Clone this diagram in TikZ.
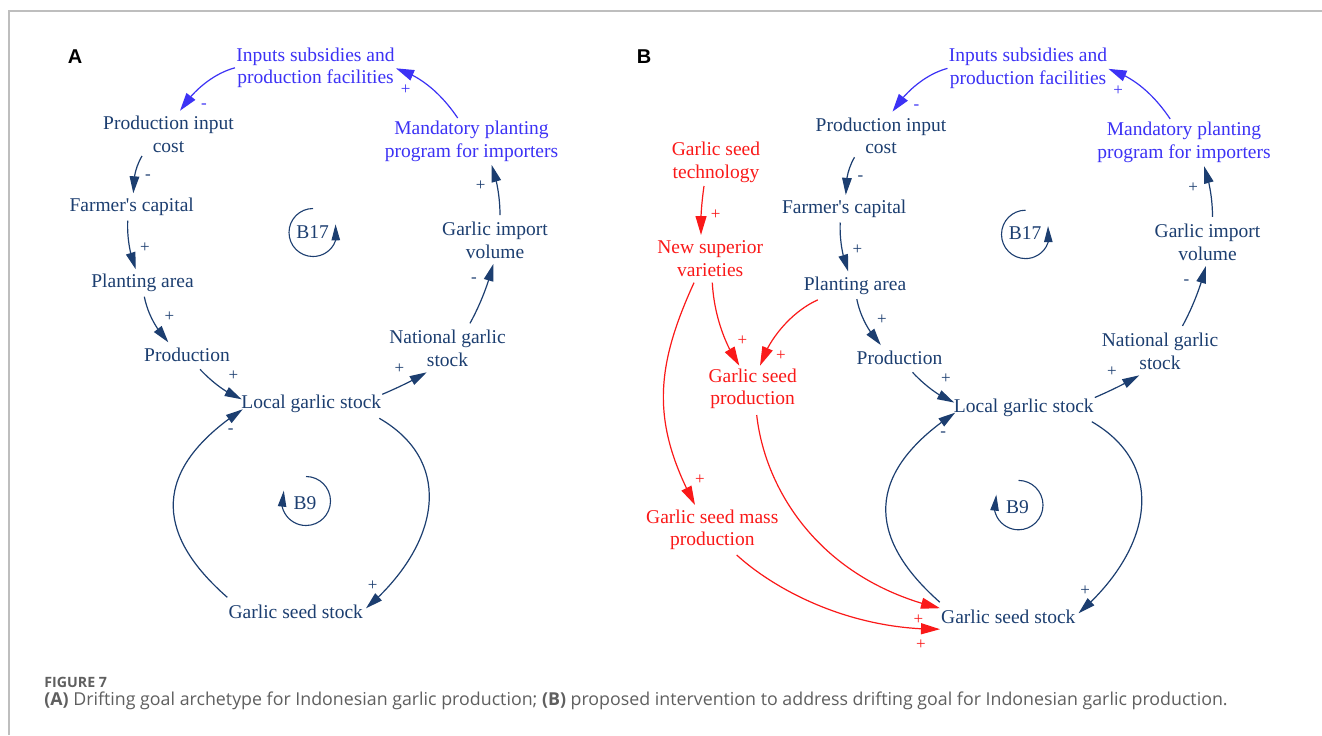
\documentclass[tikz,border=0pt]{standalone}
\usepackage{fontspec}
\setmainfont{Liberation Serif}
\newfontfamily\vfont{Liberation Serif}
\newfontfamily\capfont{Open Sans}
\newfontfamily\lblfont{Liberation Sans}
\usetikzlibrary{arrows.meta,bending}
\definecolor{navy}{RGB}{28,62,112}
\definecolor{vblue}{RGB}{60,50,245}
\definecolor{vred}{RGB}{250,25,25}
\definecolor{capgrey}{RGB}{95,95,95}
\definecolor{framegrey}{RGB}{190,190,190}
\tikzset{
  var/.style={font=\vfont\fontsize{9.75}{11.4}\selectfont, inner sep=0pt, align=center, text=navy},
  bvar/.style={var, text=vblue},
  rvar/.style={var, text=vred},
  sgn/.style={font=\vfont\fontsize{8.5}{9}\selectfont, inner sep=0pt, text=navy},
  bsgn/.style={sgn, text=vblue},
  rsgn/.style={sgn, text=vred},
  nlink/.style={draw=navy, line width=0.6pt, -{Triangle[length=8.5pt,width=4.8pt]}},
  blink/.style={draw=vblue, line width=0.6pt, -{Triangle[length=9pt,width=5.5pt]}},
  rlink/.style={draw=vred, line width=0.6pt, -{Triangle[length=9.5pt,width=5.5pt]}},
  nloop/.style={draw=navy, line width=0.55pt, -{Triangle[length=8pt,width=4.2pt]}},
  panel/.style={font=\lblfont\bfseries\fontsize{10}{12}\selectfont, inner sep=0pt},
}
\newcommand\cldcore[1]{%
\node[bvar] (#1ipsf) at (315.5,67.8) {Inputs subsidies and\\production facilities};
\node[var] (#1pic) at (168.5,134.7) {Production input\\cost};
\node[var] (#1fc) at (131.7,206.7) {Farmer's capital};
\node[var] (#1pa) at (142.5,283.3) {Planting area};
\node[var] (#1prod) at (187,355) {Production};
\node[var] (#1lgs) at (311.3,404.3) {Local garlic stock};
\node[var] (#1ngs) at (447.5,348.3) {National garlic\\stock};
\node[var] (#1giv) at (495,240.5) {Garlic import\\volume};
\node[bvar] (#1mpp) at (471.5,141.3) {Mandatory planting\\program for importers};
\node[var] (#1gss) at (295.8,611.7) {Garlic seed stock};
\node[var] (#1bs) at (312.7,231.7) {B17};
\node[var] (#1bn) at (305,503.3) {B9};
\draw[blink] ([shift={(-80.5,0)}]#1ipsf.center) .. controls (212,74) and (192,92) .. ([shift={(11.5,-24)}]#1pic.center);
\draw[blink] ([shift={(-13.8,-23.3)}]#1mpp.center) .. controls (440,92) and (420,76) .. ([shift={(80.5,0.5)}]#1ipsf.center);
\draw[nlink] ([shift={(-26.5,21.3)}]#1pic.center) .. controls (135,168) and (133,180) .. ([shift={(1.6,-13.4)}]#1fc.center);
\draw[nlink] ([shift={(-4,14)}]#1fc.center) .. controls (127,238) and (130,255) .. ([shift={(-6.8,-14)}]#1pa.center);
\draw[nlink] ([shift={(1.8,13.4)}]#1pa.center) .. controls (148,315) and (157,330) .. ([shift={(-18.7,-12.7)}]#1prod.center);
\draw[nlink] ([shift={(13,14.3)}]#1prod.center) .. controls (212,382) and (226,393) .. ([shift={(-69.6,-5)}]#1lgs.center);
\draw[nlink] ([shift={(71,-10)}]#1lgs.center) .. controls (397,388) and (412,381) .. ([shift={(-20.8,24)}]#1ngs.center);
\draw[nlink] ([shift={(22.5,-25)}]#1ngs.center) .. controls (480,305) and (488,285) .. ([shift={(-1.7,23.5)}]#1giv.center);
\draw[nlink] ([shift={(5,-25.5)}]#1giv.center) .. controls (500,198) and (497,180) .. ([shift={(20.2,23.7)}]#1mpp.center);
\draw[nlink] ([shift={(68,14)}]#1lgs.center) .. controls (455,462) and (440,545) .. ([shift={(70.2,-3.4)}]#1gss.center);
\draw[nlink] ([shift={(-68.5,-14.4)}]#1gss.center) .. controls (155,534) and (150.5,470) .. ([shift={(-68.6,5)}]#1lgs.center);
\draw[nloop] ([shift={(0.3,-23.2)}]#1bs.center) arc[start angle=-90,end angle=-380,radius=24];
\draw[nloop] ([shift={(1,-26.8)}]#1bn.center) arc[start angle=-90,end angle=205,radius=24.5];
\node[bsgn] (#1s1) at (204,106) {-};
\node[bsgn] (#1s2) at (405.7,90) {+};
\node[sgn] (#1s3) at (148,176.7) {-};
\node[sgn] (#1s4) at (145,247.3) {+};
\node[sgn] (#1s5) at (169.3,316.7) {+};
\node[sgn] (#1s6) at (233.3,376) {+};
\node[sgn] (#1s7) at (399.3,368.3) {+};
\node[sgn] (#1s8) at (474,280) {-};
\node[sgn] (#1s9) at (480.7,186) {+};
\node[sgn] (#1s10) at (230.7,430.7) {-};
\node[sgn] (#1s11) at (372.7,585.7) {+};
}
\begin{document}
\begin{tikzpicture}[x=0.5pt,y=-0.5pt]
\useasboundingbox (0,0) rectangle (1322,735);
\fill[white] (0,0) rectangle (1322,735);
\draw[framegrey, line width=1pt] (9,735) -- (9,11) -- (1322,11);
\node[panel] (labA) at (75,57) {A};
\node[panel] (labB) at (644,57) {B};
\cldcore{a}
\begin{scope}[shift={(712.5,0)}, yscale=1.008]
\cldcore{b}
\end{scope}
% red intervention
\node[rvar] (gst) at (716,162) {Garlic seed\\technology};
\node[rvar] (nsv) at (710.2,258.8) {New superior\\varieties};
\node[rvar] (gsp) at (752.7,388.8) {Garlic seed\\production};
\node[rvar] (gsmp) at (712.3,529.7) {Garlic seed mass\\production};
\draw[rlink] ([shift={(-12,24)}]gst.center) .. controls (702,200) and (700,220) .. ([shift={(-9.2,-23.8)}]nsv.center);
\draw[rlink] ([shift={(2.1,23.9)}]nsv.center) .. controls (714,315) and (725,345) .. ([shift={(-13.4,-23.1)}]gsp.center);
\draw[rlink] ([shift={(-37.2,14.3)}]bpa.center) .. controls (795,310) and (770,335) .. ([shift={(7.3,-23.1)}]gsp.center);
\draw[rlink] ([shift={(-16.2,23.9)}]nsv.center) .. controls (655,368) and (651,423) .. ([shift={(-17.3,-24.7)}]gsmp.center);
\draw[rlink] ([shift={(4,26.2)}]gsp.center) .. controls (765,490) and (820,580) .. ([shift={(-68.3,-8.4)}]bgss.center);
\draw[rlink] ([shift={(24.4,25.3)}]gsmp.center) .. controls (775,590) and (850,630) .. ([shift={(-68.3,12.6)}]bgss.center);
\node[rsgn] (r1) at (715.7,214.3) {+};
\node[rsgn] (r2) at (742.3,340.7) {+};
\node[rsgn] (r3) at (781,355.7) {+};
\node[rsgn] (r4) at (700,480) {+};
\node[rsgn] (r5) at (918.3,619.3) {+};
\node[rsgn] (r6) at (921,644.3) {+};
% caption
\node[anchor=west, inner sep=0pt, font=\capfont\bfseries\fontsize{7.1}{8}\selectfont, text=capgrey] (fig) at (44,682.7) {FIGURE 7};
\node[anchor=west, inner sep=0pt, font=\capfont\fontsize{8.9}{10}\selectfont, text=capgrey] (cap) at (44,701) {\textbf{(A)} Drifting goal archetype for Indonesian garlic production; \textbf{(B)} proposed intervention to address drifting goal for Indonesian garlic production.};
\end{tikzpicture}
\end{document}
